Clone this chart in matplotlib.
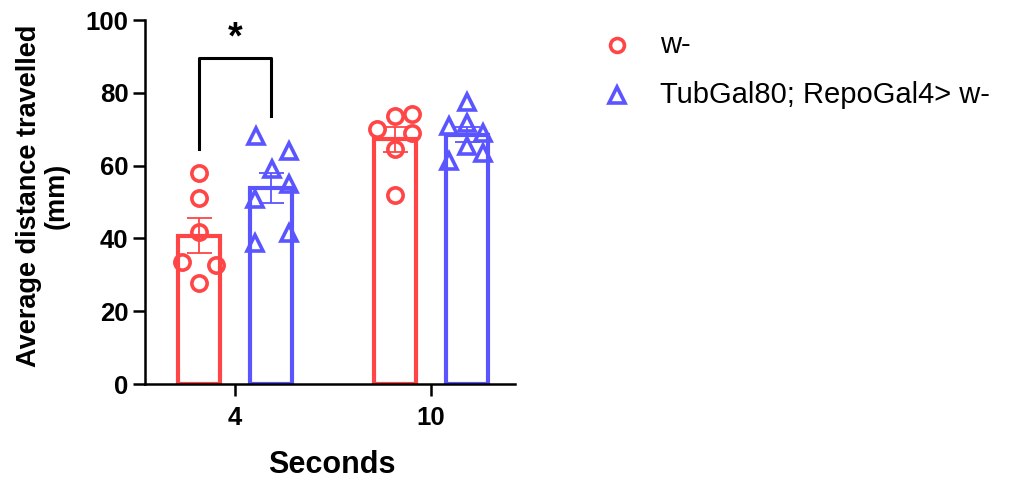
import numpy as np
import matplotlib
matplotlib.use("Agg")
import matplotlib.pyplot as plt
from matplotlib.lines import Line2D

plt.rcParams['font.family'] = ['Liberation Sans', 'DejaVu Sans']

# ---- data ----
categories = ["4", "10"]
series_names = ["w-", "TubGal80; RepoGal4> w-"]
w_4s = [58.0, 51.0, 41.8, 33.5, 32.6, 27.7]
w_10s = [70.0, 73.5, 74.3, 69.0, 64.5, 51.8]
tub_4s = [68.0, 64.0, 59.1, 55.0, 50.7, 41.5, 38.8]
tub_10s = [77.5, 70.9, 71.8, 69.0, 65.4, 63.5, 61.2]
yticks = [0, 20, 40, 60, 80, 100]

# ---- layout / style ----
W, H = 1009, 482
fig = plt.figure(figsize=(W / 100, H / 100), dpi=100)
ax = fig.add_axes([145 / W, 1 - 384 / H, (515 - 145) / W, (384 - 20) / H])

red = "#FF4545"
blue = "#5A55FF"
colors = [red, blue]
markers = ["o", "^"]
msizes = [11, 12]
offsets = [-0.183, 0.183]
bar_w = 0.215
px = 1 / 195.0  # pixel -> data units in x
# horizontal scatter offsets (pixels) for individual points
jit_w_4s = [0, 0, 0, -17, 17, 0]
jit_w_10s = [-18, 0, 17, 17, 0, 0]
jit_tub_4s = [-15, 18, 1, 18, -16, 18, -16]
jit_tub_10s = [0, -18, 0, 16, 0, 16, -18]

groups = [[w_4s, w_10s], [tub_4s, tub_10s]]
jits = [[jit_w_4s, jit_w_10s], [jit_tub_4s, jit_tub_10s]]
xpos = np.arange(len(categories))

for si in range(2):
    for ci in range(2):
        vals = np.array(groups[si][ci])
        m = vals.mean()
        sem = vals.std(ddof=1) / np.sqrt(len(vals))
        xc = xpos[ci] + offsets[si]
        ax.bar(xc, m, width=bar_w, facecolor="none", edgecolor=colors[si],
               linewidth=3.0, zorder=2)
        ax.errorbar(xc, m, yerr=sem, fmt="none", ecolor=colors[si],
                    elinewidth=1.3, capsize=9, capthick=1.3, zorder=3)
        xs = xc + np.array(jits[si][ci]) * px
        ax.plot(xs, vals, linestyle="none", marker=markers[si],
                markersize=msizes[si], markerfacecolor="none",
                markeredgecolor=colors[si], markeredgewidth=2.6, zorder=4,
                clip_on=False)

# significance bracket
xl = xpos[0] + offsets[0]
xr = xpos[0] + offsets[1]
ax.plot([xl, xl, xr, xr], [64.5, 89.6, 89.6, 73.6], color="black",
        linewidth=2.2, zorder=5, clip_on=False)
ax.text((xl + xr) / 2, 95.0, "*", ha="center", va="center",
        fontsize=27, fontweight="bold", color="black")

ax.set_xlim(-0.46, 1.43)
ax.set_ylim(0, 100)
ax.set_xticks(xpos)
ax.set_xticklabels(categories)
ax.set_yticks(yticks)
for s in ["top", "right"]:
    ax.spines[s].set_visible(False)
for s in ["left", "bottom"]:
    ax.spines[s].set_linewidth(1.8)
ax.tick_params(axis="both", length=8.5, width=1.8, labelsize=18.5)
ax.tick_params(axis="y", pad=3.5)
ax.tick_params(axis="x", pad=7)
for lab in ax.get_xticklabels() + ax.get_yticklabels():
    lab.set_fontweight("bold")

fig.text(332 / W, 1 - 465 / H, "Seconds", ha="center", va="center",
         fontsize=22, fontweight="bold")
fig.text(43 / W, 1 - 196 / H, "Average distance travelled\n(mm)",
         ha="center", va="center", rotation=90, fontsize=19.5,
         fontweight="bold", linespacing=1.05)

# legend drawn manually
leg_y = [45, 95]
for i in range(2):
    fig.add_artist(Line2D([617 / W], [1 - leg_y[i] / H], linestyle="none",
                          marker=markers[i], markersize=msizes[i] - 1,
                          markerfacecolor="none", markeredgecolor=colors[i],
                          markeredgewidth=2.6, transform=fig.transFigure))
    fig.text(660 / W, 1 - leg_y[i] / H, series_names[i], ha="left",
             va="center", fontsize=21)

fig.savefig("out.png", dpi=100)
